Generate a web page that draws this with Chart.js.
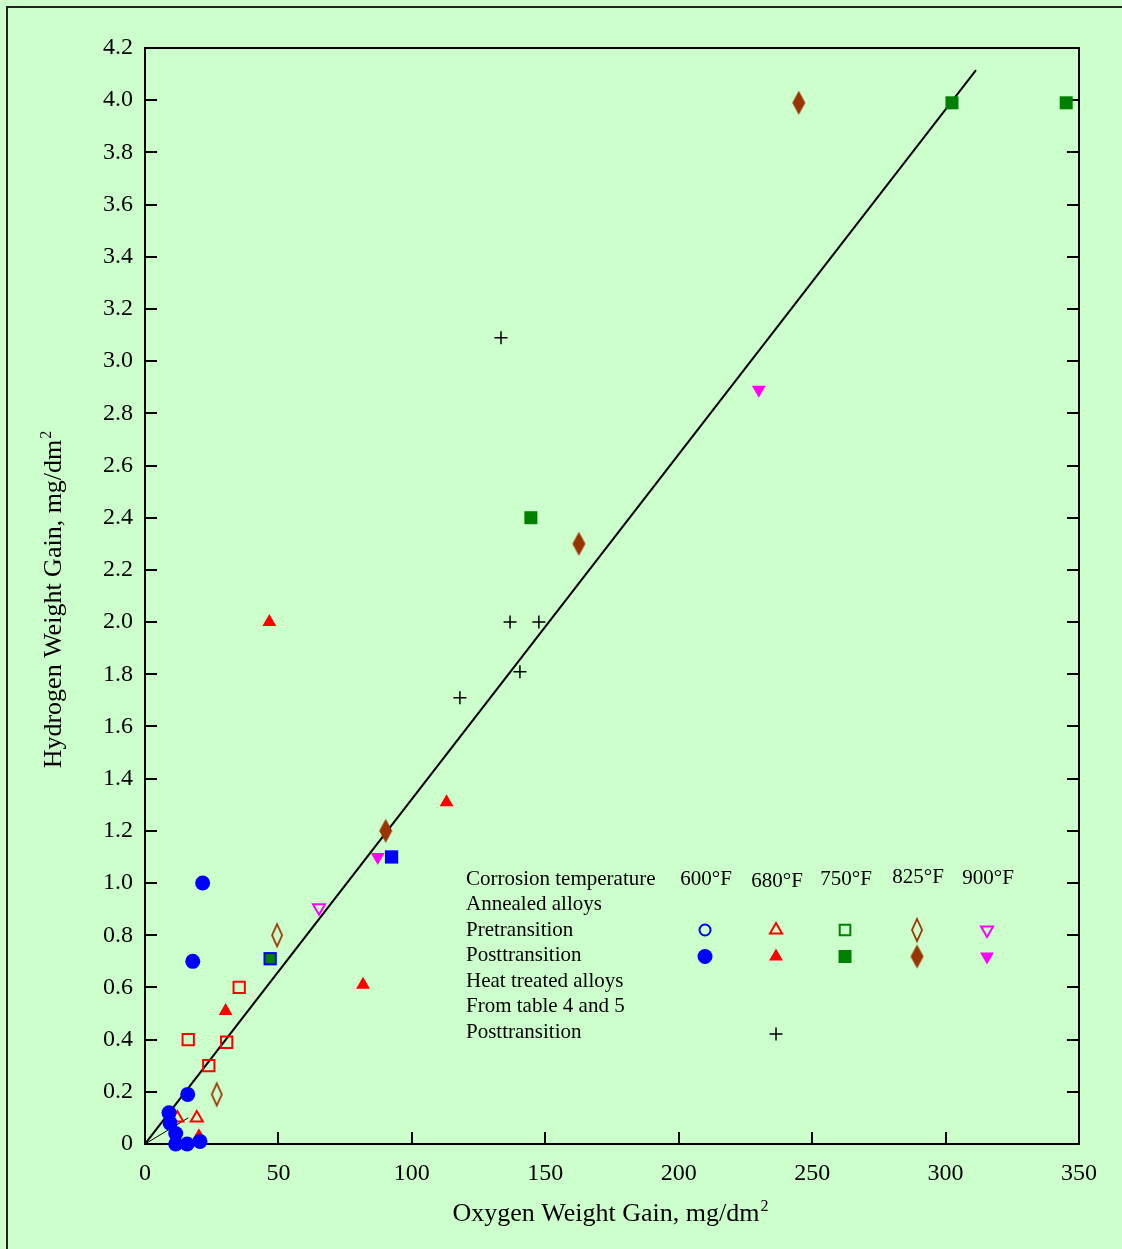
<!DOCTYPE html>
<html lang="en">
<head>
<meta charset="UTF-8">
<title>Hydrogen vs Oxygen Weight Gain</title>
<style>
  html, body { margin: 0; padding: 0; background: #ccffcc; }
  #wrap { width: 1122px; height: 1249px; }
</style>
</head>
<body>
<div id="wrap"><canvas id="myChart" width="1122" height="1249"></canvas></div>
<script src="https://cdn.jsdelivr.net/npm/chart.js"></script>
<script>
// values, oxygen gain (x) / hydrogen gain (y), mg/dm2
const xTicks = [0, 50, 100, 150, 200, 250, 300, 350];
const yTicks = [0, 0.2, 0.4, 0.6, 0.8, 1.0, 1.2, 1.4, 1.6, 1.8, 2.0, 2.2, 2.4, 2.6, 2.8, 3.0, 3.2, 3.4, 3.6, 3.8, 4.0, 4.2];

const post600X = [21.6, 17.9, 16.0, 9.0, 9.4, 11.5, 11.5, 15.8, 20.6];
const post600Y = [1.00, 0.70, 0.19, 0.12, 0.08, 0.04, 0.00, 0.00, 0.01];
const square600X = [92.4, 46.9];
const square600Y = [1.10, 0.71];

const pre680X = [12.1, 19.4];
const pre680Y = [0.10, 0.10];
const post680X = [46.6, 113.0, 81.7, 30.2, 20.2];
const post680Y = [2.00, 1.31, 0.61, 0.51, 0.03];
const square680X = [16.2, 35.3, 30.6, 23.9];
const square680Y = [0.40, 0.60, 0.39, 0.30];

const post750X = [302.4, 345.2, 144.6, 46.9];
const post750Y = [3.99, 3.99, 2.40, 0.71];

const pre825X = [49.5, 26.9];
const pre825Y = [0.80, 0.19];
const post825X = [245.0, 162.6, 90.2];
const post825Y = [3.99, 2.30, 1.20];

const pre900X = [65.2];
const pre900Y = [0.905];
const post900X = [230.0, 87.2];
const post900Y = [2.89, 1.10];

const heatX = [133.4, 136.8, 147.6, 140.5, 118.0];
const heatY = [3.09, 2.00, 2.00, 1.81, 1.71];

const fitLineX = [0, 311.4];
const fitLineY = [0, 4.115];
const shortLineX = [0, 16.2];
const shortLineY = [0, 0.10];

const tempLabels = ['600°F', '680°F', '750°F', '825°F', '900°F'];
const legendRows = ['Corrosion temperature', 'Annealed alloys', 'Pretransition', 'Posttransition',
                    'Heat treated alloys', 'From table 4 and 5', 'Posttransition'];

const BLUE = '#0000ff', RED = '#ff0000', GREEN = '#008000', BROWN = '#993300', MAGENTA = '#ff00ff';
const SERIF = '"Liberation Serif", "Times New Roman", serif';

const pts = (xs, ys) => xs.map((x, i) => ({ x: x, y: ys[i] }));

// tall diamond marker, chart.js has no such shape
function diamondImg(w, h, fill, stroke, lw) {
  const c = document.createElement('canvas');
  c.width = Math.ceil(w + lw * 2 + 2);
  c.height = Math.ceil(h + lw * 2 + 2);
  const g = c.getContext('2d');
  const cx = c.width / 2, cy = c.height / 2;
  g.beginPath();
  g.moveTo(cx, cy - h / 2);
  g.lineTo(cx + w / 2, cy);
  g.lineTo(cx, cy + h / 2);
  g.lineTo(cx - w / 2, cy);
  g.closePath();
  if (fill) { g.fillStyle = fill; g.fill(); }
  if (stroke) { g.strokeStyle = stroke; g.lineWidth = lw; g.stroke(); }
  return c;
}
const diamondFull = diamondImg(13, 24, BROWN, null, 0);
const diamondOpen = diamondImg(10, 22, null, BROWN, 1.8);

// marker styles, shared by the plot and the home-made legend
const markers = {
  open600:  { pointStyle: 'circle', radius: 5.5, bg: 'rgba(0,0,0,0)', border: BLUE, bw: 2 },
  post600:  { pointStyle: 'circle', radius: 7.5, bg: BLUE, border: BLUE, bw: 0 },
  pre680:   { pointStyle: 'triangle', radius: 7, bg: 'rgba(0,0,0,0)', border: RED, bw: 2 },
  post680:  { pointStyle: 'triangle', radius: 8, bg: RED, border: RED, bw: 0 },
  pre750:   { pointStyle: 'rect', radius: 7.5, bg: 'rgba(0,0,0,0)', border: GREEN, bw: 2 },
  post750:  { pointStyle: 'rect', radius: 9.2, bg: GREEN, border: GREEN, bw: 0 },
  pre825:   { pointStyle: diamondOpen, radius: 10 },
  post825:  { pointStyle: diamondFull, radius: 10 },
  pre900:   { pointStyle: 'triangle', rotation: 180, radius: 7, bg: 'rgba(0,0,0,0)', border: MAGENTA, bw: 2 },
  post900:  { pointStyle: 'triangle', rotation: 180, radius: 8, bg: MAGENTA, border: MAGENTA, bw: 0 },
  heat:     { pointStyle: 'cross', radius: 6.5, bg: '#000', border: '#000', bw: 1.5 }
};

function scatterSet(label, data, m, order, extra) {
  return Object.assign({
    label: label,
    data: data,
    showLine: false,
    clip: false,
    order: order,
    pointStyle: m.pointStyle,
    rotation: m.rotation || 0,
    pointRadius: m.radius,
    pointHoverRadius: m.radius,
    backgroundColor: m.bg || '#000',
    borderColor: m.border || '#000',
    pointBorderWidth: m.bw || 0
  }, extra || {});
}

const datasets = [
  scatterSet('600°F posttransition', pts(post600X, post600Y), markers.post600, 1),
  scatterSet('750°F posttransition', pts(post750X, post750Y), markers.post750, 2,
             { pointRadius: [9.2, 9.2, 9.2, 6.6] }),
  scatterSet('600°F square', pts(square600X, square600Y),
             { pointStyle: 'rect', radius: 9.4, bg: BLUE, border: BLUE, bw: 0 }, 3),
  scatterSet('680°F pretransition', pts(pre680X, pre680Y), markers.pre680, 4),
  scatterSet('680°F posttransition', pts(post680X, post680Y), markers.post680, 5),
  scatterSet('680°F square', pts(square680X, square680Y),
             { pointStyle: 'rect', radius: 8, bg: 'rgba(0,0,0,0)', border: RED, bw: 2 }, 4),
  scatterSet('825°F pretransition', pts(pre825X, pre825Y), markers.pre825, 4),
  scatterSet('825°F posttransition', pts(post825X, post825Y), markers.post825, 4),
  scatterSet('900°F pretransition', pts(pre900X, pre900Y), markers.pre900, 4),
  scatterSet('900°F posttransition', pts(post900X, post900Y), markers.post900, 4),
  scatterSet('Heat treated, posttransition', pts(heatX, heatY), markers.heat, 4),
  {
    label: 'fit', data: pts(fitLineX, fitLineY), showLine: true, order: 50,
    borderColor: '#000', borderWidth: 2, pointRadius: 0, fill: false
  },
  {
    label: 'short', data: pts(shortLineX, shortLineY), showLine: true, order: 50,
    borderColor: '#000', borderWidth: 1, pointRadius: 0, fill: false
  }
];

function drawMarker(ctx, m, x, y) {
  ctx.save();
  ctx.fillStyle = m.bg || '#000';
  ctx.strokeStyle = m.border || '#000';
  ctx.lineWidth = m.bw || 0;
  Chart.helpers.drawPoint(ctx, {
    pointStyle: m.pointStyle, rotation: m.rotation || 0,
    radius: m.radius, borderWidth: m.bw || 0
  }, x, y);
  ctx.restore();
}

// text with a raised "2" at the end
function titleWithSup(ctx, text, x, y, size) {
  ctx.font = size + 'px ' + SERIF;
  const w1 = ctx.measureText(text).width;
  ctx.font = Math.round(size * 0.6) + 'px ' + SERIF;
  const w2 = ctx.measureText('2').width;
  const x0 = x - (w1 + w2) / 2;
  ctx.textAlign = 'left';
  ctx.textBaseline = 'alphabetic';
  ctx.font = size + 'px ' + SERIF;
  ctx.fillText(text, x0, y);
  ctx.font = Math.round(size * 0.6) + 'px ' + SERIF;
  ctx.fillText('2', x0 + w1 + 1, y - size * 0.4);
}

// background, outer border, frame and inward tick marks
const framePlugin = {
  id: 'frame',
  beforeDraw(chart) {
    const ctx = chart.ctx;
    ctx.save();
    ctx.fillStyle = '#ccffcc';
    ctx.fillRect(0, 0, chart.width, chart.height);
    ctx.strokeStyle = '#222';
    ctx.lineWidth = 2;
    ctx.strokeRect(7, 7, chart.width + 20, chart.height + 20);
    ctx.restore();
  },
  beforeDatasetsDraw(chart) {
    const { ctx, chartArea: a, scales } = chart;
    ctx.save();
    ctx.strokeStyle = '#000';
    ctx.lineWidth = 2;
    ctx.strokeRect(a.left, a.top, a.right - a.left, a.bottom - a.top);
    ctx.beginPath();
    yTicks.forEach(v => {
      const py = Math.round(scales.y.getPixelForValue(v));
      ctx.moveTo(a.left, py); ctx.lineTo(a.left + 12, py);
      ctx.moveTo(a.right, py); ctx.lineTo(a.right - 12, py);
    });
    xTicks.forEach(v => {
      const px = Math.round(scales.x.getPixelForValue(v));
      ctx.moveTo(px, a.bottom); ctx.lineTo(px, a.bottom - 12);
    });
    ctx.stroke();
    ctx.restore();
  },
  afterDraw(chart) {
    const { ctx, chartArea: a } = chart;
    ctx.save();
    ctx.fillStyle = '#000';
    // axis titles
    titleWithSup(ctx, 'Oxygen Weight Gain, mg/dm', (a.left + a.right) / 2 - 2, a.bottom + 77, 26);
    ctx.translate(a.left - 84, (a.top + a.bottom) / 2 + 4);
    ctx.rotate(-Math.PI / 2);
    titleWithSup(ctx, 'Hydrogen Weight Gain, mg/dm', 0, 0, 26);
    ctx.restore();

    // legend table inside the plot
    const w = a.right - a.left, h = a.bottom - a.top;
    const lx = a.left + 0.3437 * w;
    const ly = a.top + 0.7582 * h;
    const pitch = 25.5;
    const colDx = [240, 311, 380, 452, 522];
    const headDy = [0, 2, 0, -2, -1];
    ctx.save();
    ctx.fillStyle = '#000';
    ctx.font = '21px ' + SERIF;
    ctx.textBaseline = 'middle';
    ctx.textAlign = 'left';
    legendRows.forEach((t, i) => ctx.fillText(t, lx, ly + i * pitch));
    ctx.textAlign = 'center';
    tempLabels.forEach((t, i) => ctx.fillText(t, lx + colDx[i], ly + headDy[i]));
    ctx.restore();
    const pre = [markers.open600, markers.pre680, markers.pre750, markers.pre825, markers.pre900];
    const post = [markers.post600, markers.post680, markers.post750, markers.post825, markers.post900];
    pre.forEach((m, i) => drawMarker(ctx, m, lx + colDx[i] - 1, ly + 2 * pitch));
    post.forEach((m, i) => drawMarker(ctx, m, lx + colDx[i] - 1, ly + 3 * pitch + 1));
    drawMarker(ctx, markers.heat, lx + colDx[1] - 1, ly + 6 * pitch + 2);
  }
};

const tickFont = { family: SERIF, size: 24 };

new Chart(document.getElementById('myChart'), {
  type: 'scatter',
  data: { datasets: datasets },
  options: {
    responsive: false,
    animation: false,
    layout: { padding: { left: 0, right: 43, top: 48, bottom: 0 } },
    plugins: { legend: { display: false }, tooltip: { enabled: false } },
    scales: {
      x: {
        type: 'linear', min: 0, max: 350,
        afterBuildTicks: s => { s.ticks = xTicks.map(v => ({ value: v })); },
        afterFit: s => { s.height = 105; },
        grid: { display: false, drawTicks: false },
        border: { display: false },
        ticks: { font: tickFont, color: '#000', padding: 15, maxRotation: 0, autoSkip: false }
      },
      y: {
        type: 'linear', min: 0, max: 4.2,
        afterBuildTicks: s => { s.ticks = yTicks.map(v => ({ value: v })); },
        afterFit: s => { s.width = 145; },
        grid: { display: false, drawTicks: false },
        border: { display: false },
        ticks: {
          font: tickFont, color: '#000', padding: 12, autoSkip: false,
          callback: v => v === 0 ? '0' : v.toFixed(1)
        }
      }
    }
  },
  plugins: [framePlugin]
});
</script>
</body>
</html>
